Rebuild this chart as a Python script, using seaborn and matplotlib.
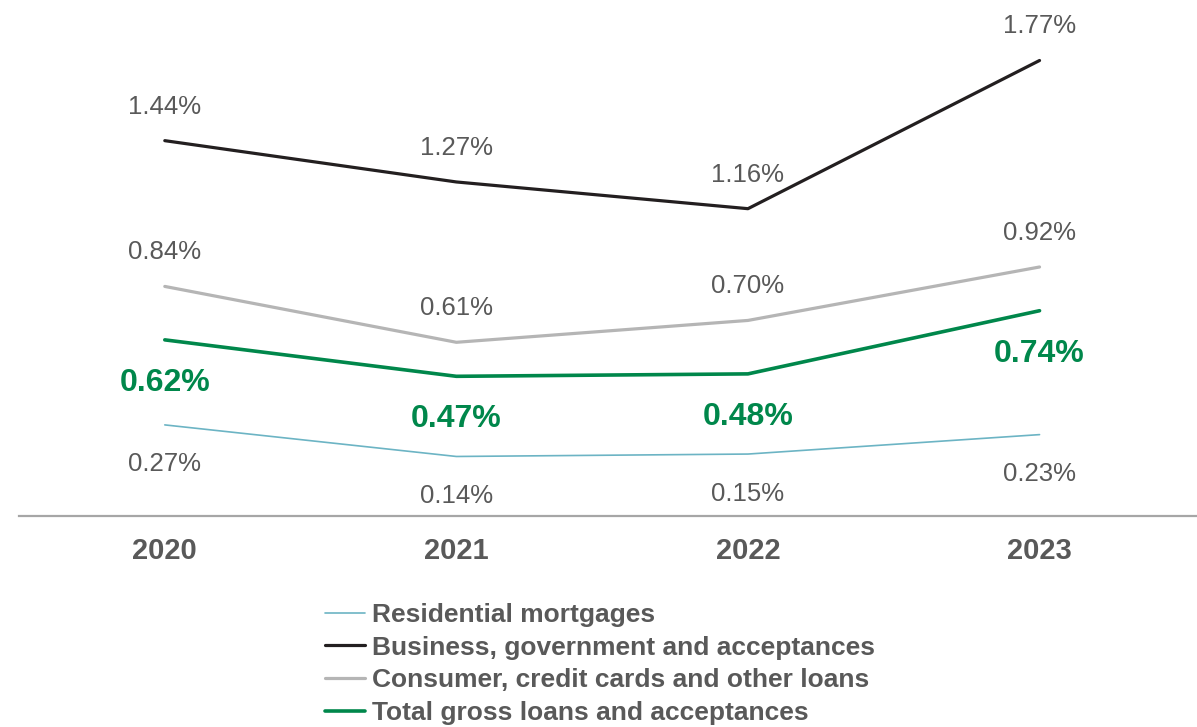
import matplotlib
matplotlib.use("Agg")
import matplotlib.pyplot as plt
import seaborn as sns
import pandas as pd

years = ["2020", "2021", "2022", "2023"]
mortgages = [0.27, 0.14, 0.15, 0.23]
business = [1.44, 1.27, 1.16, 1.77]
consumer = [0.84, 0.61, 0.70, 0.92]
total = [0.62, 0.47, 0.48, 0.74]

series_names = [
    "Residential mortgages",
    "Business, government and acceptances",
    "Consumer, credit cards and other loans",
    "Total gross loans and acceptances",
]
series_values = [mortgages, business, consumer, total]

sns.set_theme(style="white")
plt.rcParams["font.family"] = ["Liberation Sans", "DejaVu Sans"]

TEXT = "#595959"
styles = {
    "Residential mortgages": dict(color="#6cb4c4", lw=1.2, off=-28.5, size=18.5, weight="normal", tc=TEXT),
    "Business, government and acceptances": dict(color="#231f20", lw=2.3, off=24.5, size=18.5, weight="normal", tc=TEXT),
    "Consumer, credit cards and other loans": dict(color="#b5b5b5", lw=2.3, off=24.5, size=18.5, weight="normal", tc=TEXT),
    "Total gross loans and acceptances": dict(color="#00874b", lw=2.6, off=-31, size=23, weight="bold", tc="#00874b"),
}

rows = []
for name, vals in zip(series_names, series_values):
    for yr, v in zip(years, vals):
        rows.append({"year": yr, "value": v, "series": name})
df = pd.DataFrame(rows)

fig = plt.figure(figsize=(11.97, 7.27), dpi=100)
ax = fig.add_axes([19 / 1197, 1 - 516 / 727, 1 - 19 / 1197, 516 / 727])

for name in series_names:
    st = styles[name]
    sub = df[df["series"] == name]
    sns.lineplot(data=sub, x="year", y="value", color=st["color"], linewidth=st["lw"],
                 ax=ax, sort=False, label=name)
    for i, v in enumerate(sub["value"]):
        ax.annotate(f"{v:.2f}%", (i, v), xytext=(0, st["off"]), textcoords="offset points",
                    ha="center", va="center", fontsize=st["size"], fontweight=st["weight"],
                    color=st["tc"])

ax.set_xlim(-0.5, 3.54)
ax.set_ylim(-0.105, 2.019)
ax.set_xlabel("")
ax.set_ylabel("")
ax.set_yticks([])
for s in ["top", "left", "right"]:
    ax.spines[s].set_visible(False)
ax.spines["bottom"].set_color("#a6a6a6")
ax.spines["bottom"].set_linewidth(1.6)
ax.tick_params(axis="x", length=0, pad=15)
for lbl in ax.get_xticklabels():
    lbl.set_fontsize(21)
    lbl.set_fontweight("bold")
    lbl.set_color(TEXT)

h, l = ax.get_legend_handles_labels()
ax.get_legend().remove()
leg = fig.legend(h, l, loc="upper left", bbox_to_anchor=(325 / 1197, 1 - 603 / 727),
                 frameon=False, prop={"weight": "bold", "size": 19},
                 handlelength=1.5, handletextpad=0.3, labelspacing=0.33,
                 borderpad=0, borderaxespad=0)
for t in leg.get_texts():
    t.set_color(TEXT)

fig.savefig("out.png", dpi=100)
